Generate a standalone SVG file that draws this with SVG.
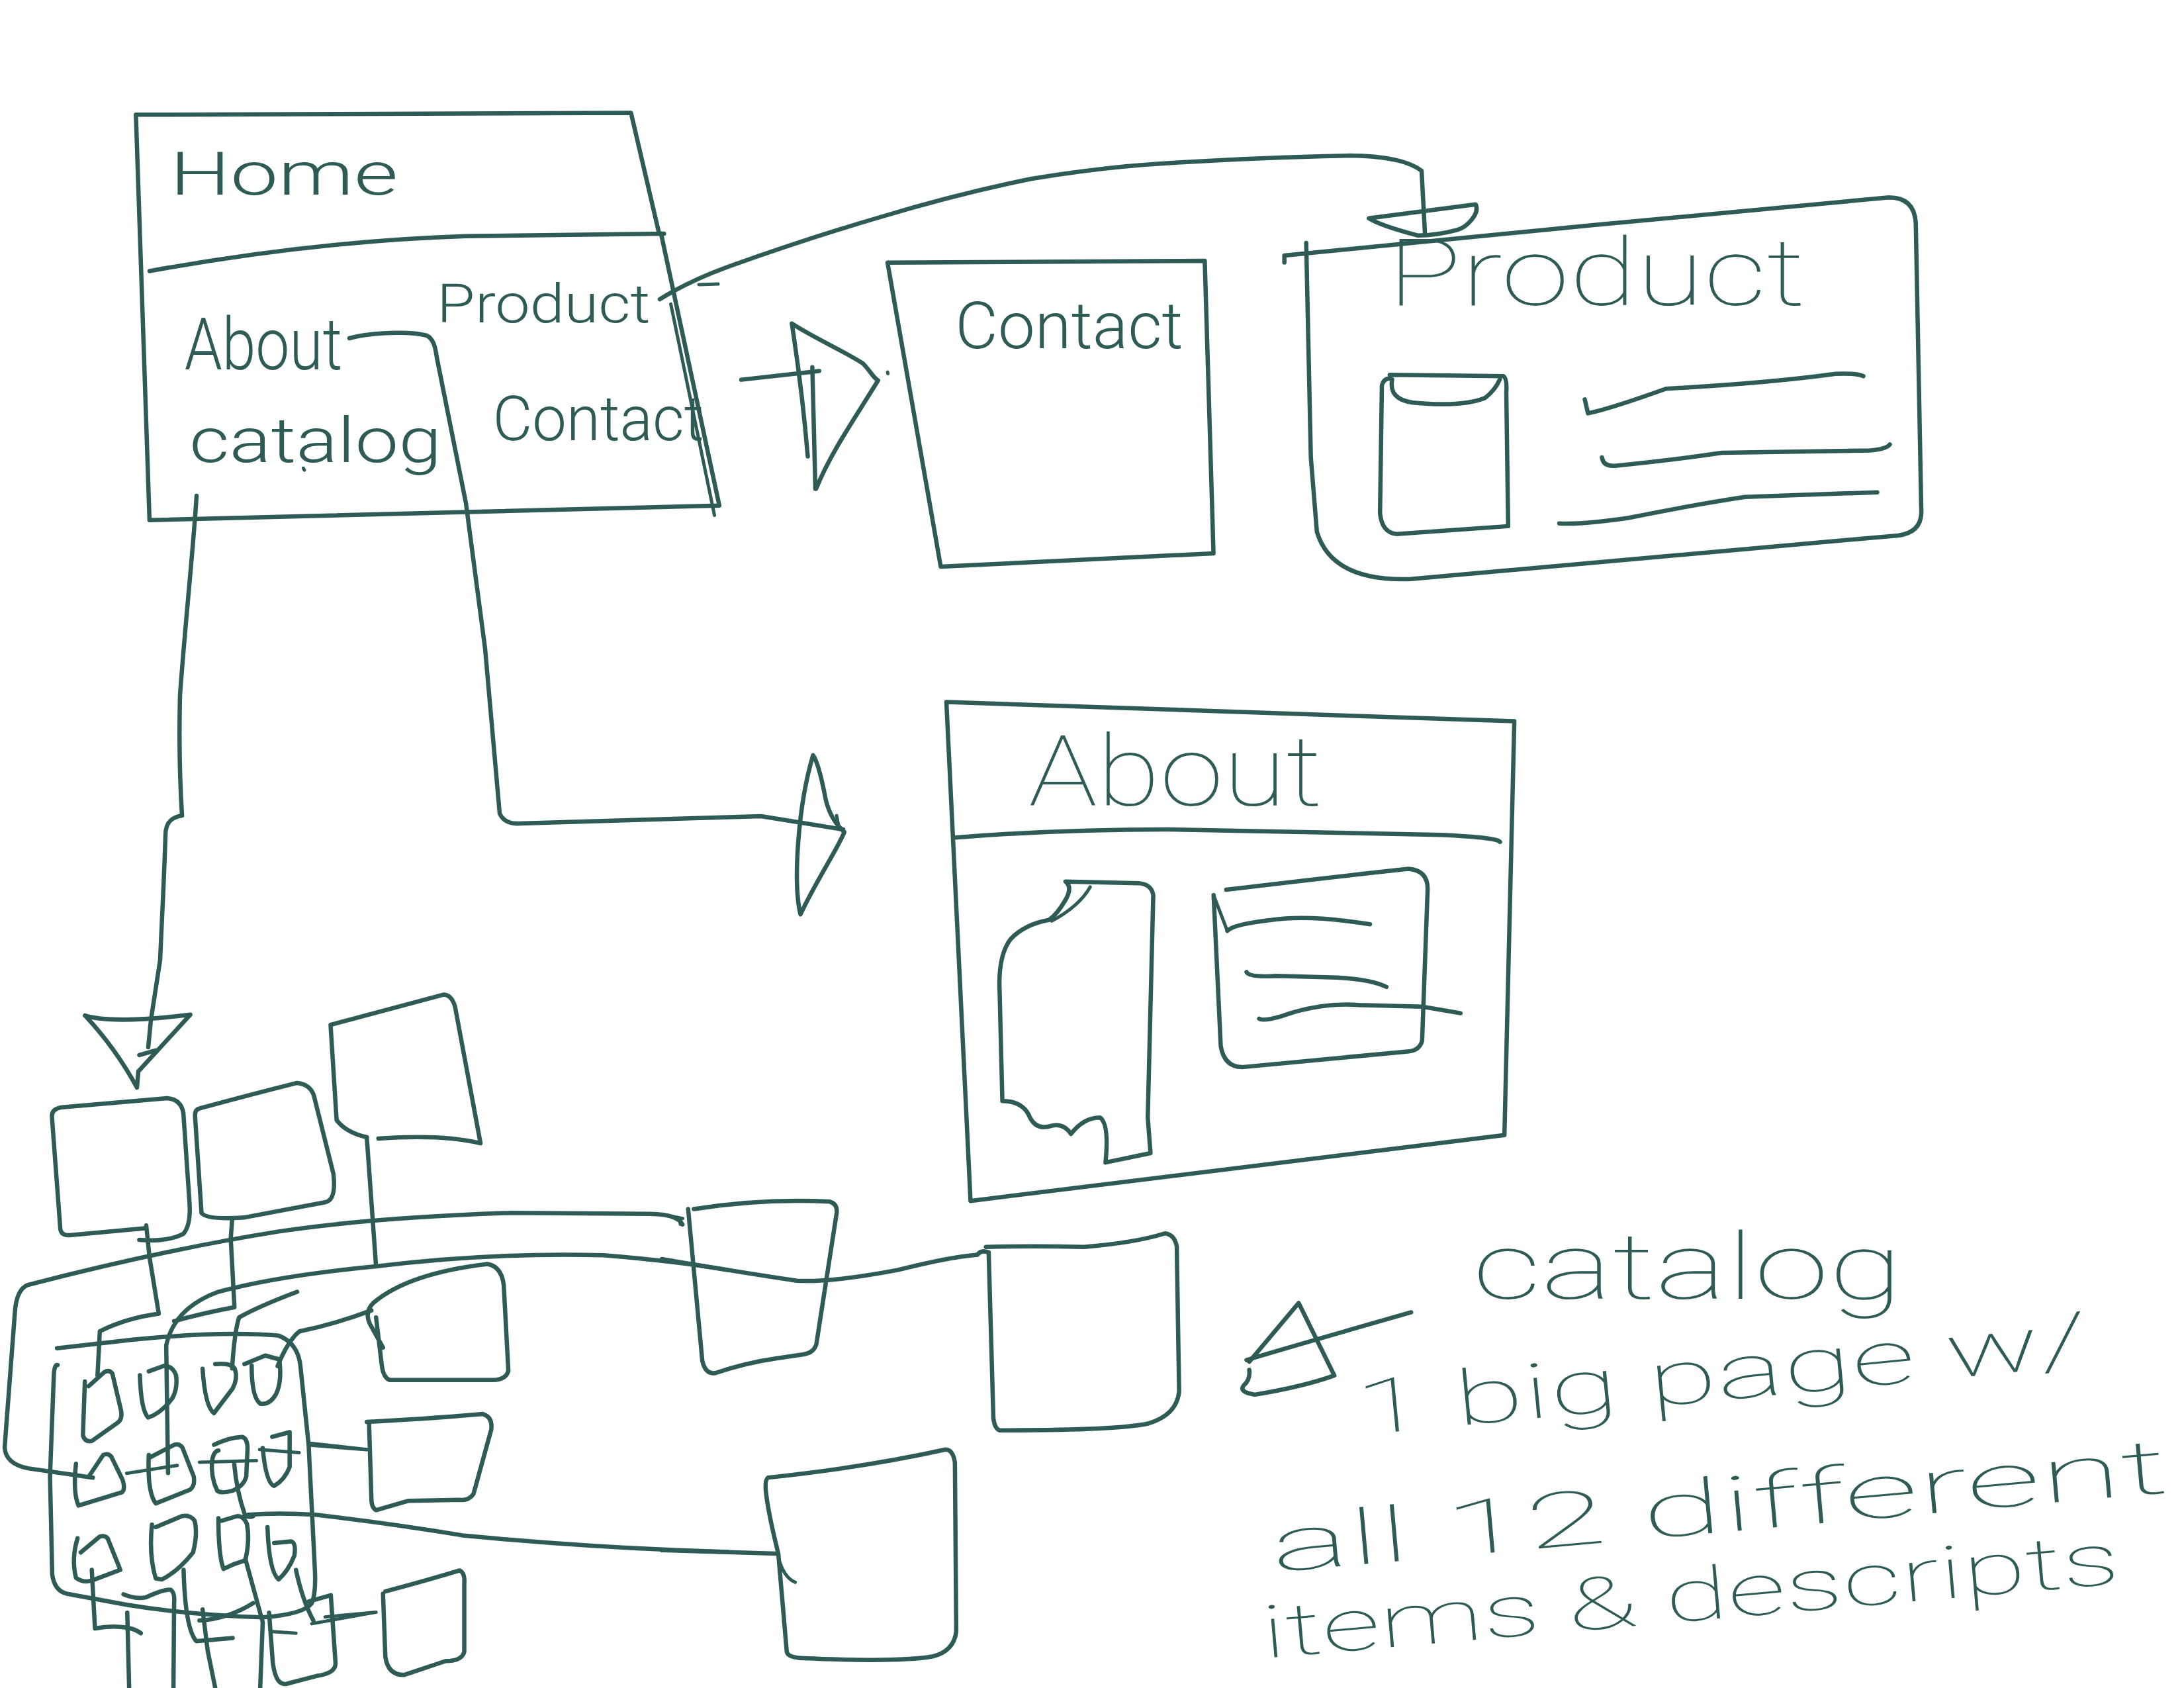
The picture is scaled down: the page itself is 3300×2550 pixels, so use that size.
<svg xmlns="http://www.w3.org/2000/svg" width="3300" height="2550" viewBox="0 0 3300 2550">
<style>
.s{fill:none;stroke:#2e5b55;stroke-width:6.5;stroke-linecap:round;stroke-linejoin:round;vector-effect:non-scaling-stroke}
.n{stroke-width:5}
.t{fill:#2e5b55;font-family:Roboto,"Liberation Sans",Arial,sans-serif;font-weight:300}
.h{font-weight:100}
</style>
<rect width="3300" height="2550" fill="#ffffff"/>

<g id="home" transform="translate(0,100) scale(0.7334)">
<path class="s" d="M1358,345 L1300,96 L280,100 L308,935 L1482,905 L1362,345"/>
<path class="s" d="M308,422 Q650,360 960,350 L1368,345"/>
<path class="s n" d="M1382,490 L1472,925"/>
<path class="s n" d="M625,828 L627,832"/>
<text class="t" x="350" y="265" font-size="125" textLength="470" lengthAdjust="spacingAndGlyphs">Home</text>
<text class="t" x="380" y="625" font-size="150" textLength="325" lengthAdjust="spacingAndGlyphs">About</text>
<text class="t" x="900" y="528" font-size="110" textLength="440" lengthAdjust="spacingAndGlyphs">Product</text>
<text class="t" x="390" y="815" font-size="130" textLength="520" lengthAdjust="spacingAndGlyphs">catalog</text>
<text class="t" x="1015" y="770" font-size="130" textLength="435" lengthAdjust="spacingAndGlyphs">Contact</text>
</g>

<g id="contact" transform="translate(1100,150) scale(0.574)">
<path class="s" d="M420,430 L1255,425 L1278,1195 L560,1230 Z"/>
<text class="t" x="598" y="655" font-size="170" textLength="600" lengthAdjust="spacingAndGlyphs">Contact</text>
</g>

<g id="product" transform="translate(1900,200) scale(0.7015)">
<path class="s" d="M58,280 L58,265 L720,200 L1360,140 Q1415,140 1418,195 L1430,820 Q1428,862 1380,868 L330,962 Q160,968 128,860 L115,700 L105,238"/>
<path class="s" d="M285,522 L530,525 Q538,530 536,560 L540,848 L300,865 Q268,862 264,820 L268,545 Q272,530 285,530"/>
<path class="s" d="M290,532 Q282,575 335,582 Q440,592 490,572 Q512,555 522,532"/>
<path class="s" d="M705,575 L712,605 Q760,595 880,552 Q1100,540 1245,520 Q1290,518 1305,525"/>
<path class="s" d="M742,700 Q745,720 770,718 Q900,705 1000,690 L1320,685 Q1355,682 1362,672"/>
<path class="s" d="M650,842 Q700,845 800,830 Q950,800 1050,785 L1335,775"/>
<text class="t h" x="280" y="372" font-size="200" textLength="900" lengthAdjust="spacingAndGlyphs">Product</text>
</g>

<g id="about" transform="translate(1100,1000) scale(0.8291)">
<path class="s" d="M398,73 L1433,108 L1415,862 L442,982 Z"/>
<path class="s" d="M415,320 Q600,305 800,305 L1300,315 Q1405,320 1407,328"/>
<path class="s" d="M615,400 Q628,410 616,432 Q600,460 585,470 Q540,478 515,505 Q492,535 495,600 L500,800 Q535,800 548,825 Q560,855 590,845 Q612,840 625,860 Q648,830 678,830 Q695,842 688,912 L770,895 L765,830 L775,425 Q772,405 748,403 Z"/>
<path class="s n" d="M590,472 Q640,445 660,410"/>
<path class="s" d="M908,415 Q1100,392 1240,377 Q1276,380 1275,415 L1265,690 Q1260,710 1235,710 L940,738 Q905,740 898,700 L885,425"/>
<path class="s n" d="M885,425 L910,490"/>
<path class="s" d="M910,490 Q920,478 990,470 Q1060,460 1170,478"/>
<path class="s" d="M945,565 Q950,575 1000,572 L1110,575 Q1170,578 1200,592"/>
<path class="s" d="M968,650 Q975,655 1010,645 Q1080,620 1150,625 L1265,628 L1335,640"/>
<text class="t h" x="548" y="262" font-size="180" textLength="535" lengthAdjust="spacingAndGlyphs">About</text>
</g>

<g id="catalog-boxes" transform="translate(0,1450) scale(0.7015)">
<path class="s" d="M300,603 Q360,608 395,590 Q412,570 408,520 L395,330 Q390,300 360,298 L130,318 Q110,322 112,340 L130,580 Q132,594 150,593 L312,578"/>
<path class="s" d="M430,320 Q540,290 640,265 Q668,268 676,292 L718,460 Q725,518 700,522 L525,555 Q445,560 434,545 L420,335 Q420,322 430,320"/>
<path class="s" d="M815,385 Q950,375 1035,395 L980,100 Q972,75 955,75 L712,140 L725,345 Q745,372 790,382"/>
<path class="s" d="M825,835 L800,790 Q782,760 805,738 Q880,675 1050,655 Q1080,660 1085,700 L1095,885 Q1090,905 1060,905 L840,905 Q825,900 822,870 L810,770"/>
<path class="s" d="M790,995 Q900,990 1040,978 Q1062,985 1058,1012 L1020,1150 Q1010,1165 990,1163 L880,1165 L810,1185 Q800,1180 800,1160 L795,1000"/>
<path class="s" d="M830,1360 Q900,1342 990,1315 Q1002,1320 1000,1345 L1000,1490 Q995,1510 960,1510 L870,1540 Q835,1540 830,1500 L825,1365"/>
</g>

<g id="catalog-big" transform="translate(1000,1750) scale(0.5102)">
<path class="s" d="M95,150 Q300,118 498,128 Q520,135 518,160 L458,548 Q452,575 420,580 L340,592 Q250,605 160,635 Q130,642 120,600 L78,150"/>
<path class="s" d="M960,262 Q1100,258 1250,262 Q1400,250 1490,222 Q1518,225 1525,260 L1532,690 Q1525,760 1440,785 Q1350,805 1000,805 Q986,800 982,770 L968,280"/>
<path class="s" d="M315,945 Q600,915 840,862 Q862,862 868,900 L872,1400 Q865,1460 800,1475 Q700,1492 420,1480 Q372,1478 370,1460 L345,1170 Q315,1050 308,985 Q305,950 315,945"/>
<path class="s n" d="M345,1180 Q360,1240 395,1255"/>
</g>

<g id="catalog-page" transform="translate(0,1800) scale(0.4783)">
<path class="s" d="M182,548 Q172,545 170,580 L158,900 L165,1210 Q172,1260 210,1270 L400,1305 Q600,1338 830,1345 Q960,1335 985,1300 Q998,1270 995,1200 L975,800 L950,560 Q945,480 880,455 Q700,440 420,468 L180,495"/>
<path class="s" d="M268,600 L262,770 Q268,792 290,788 L372,730 Q388,718 382,690 L355,575 Q345,562 330,570 L280,615"/>
<path class="s" d="M442,580 Q445,690 468,714 Q510,700 545,652 Q562,620 556,580 Q546,552 520,550 L470,568"/>
<path class="s" d="M640,560 Q648,680 676,700 L735,622 Q752,590 742,560 Q730,540 680,545"/>
<path class="s" d="M795,550 Q795,650 822,670 Q852,675 872,640 Q892,598 882,530 L838,518 L772,545"/>
<path class="s" d="M240,860 Q230,950 248,992 Q300,976 385,950 Q397,940 387,910 L352,838 Q342,825 326,832 L282,898"/>
<path class="s" d="M470,832 Q465,950 492,985 L600,942 Q617,930 612,900 L576,808 Q566,795 550,800 L470,842"/>
<path class="s" d="M676,800 Q725,776 765,775 Q782,780 782,812 L778,900 Q770,930 735,945 Q700,955 686,945 Q665,900 670,850 Q675,820 690,818"/>
<path class="s" d="M830,810 Q840,920 866,930 Q900,910 915,870 L915,760 L860,775"/>
<path class="s" d="M245,1095 Q225,1160 240,1220 Q268,1240 300,1225 L380,1195 L340,1095 Q330,1085 315,1090 L255,1140"/>
<path class="s" d="M480,1052 Q470,1150 492,1222 L512,1225 Q562,1200 610,1140 Q625,1080 615,1040 Q600,1020 575,1025 L492,1060"/>
<path class="s" d="M690,1032 Q690,1150 706,1192 Q740,1175 775,1165 Q790,1100 780,1050 Q770,1025 750,1025 L700,1040"/>
<path class="s" d="M845,1060 Q850,1200 880,1225 Q910,1200 930,1150 Q936,1110 920,1105 L866,1110"/>
<path class="s" d="M390,1272 Q430,1288 460,1282 Q520,1255 540,1258 Q553,1268 550,1300 L548,1568"/>
<path class="s" d="M402,1330 L408,1568"/>
<path class="s" d="M640,1320 L656,1450 L680,1568"/>
<path class="s" d="M850,1330 L862,1490 Q872,1562 905,1555 L1000,1530 Q1060,1522 1060,1490 L1045,1275 L975,1295"/>
<path class="s n" d="M860,1390 L935,1395"/>
</g>

<g id="connectors">
<path class="s" d="M297,749 C292,830 280,940 272,1050 C270,1130 273,1200 275,1232 C262,1234 250,1240 250,1262 C248,1330 244,1400 242,1450 L228,1541 L224,1582"/>
<path class="s" d="M528,511 C560,502 620,500 645,507 C655,512 658,525 660,540 L704,760 L733,980 L755,1229 C760,1240 770,1245 785,1244 L1150,1233 L1274,1253"/>
<path class="s" d="M997,452 Q1040,425 1100,403 Q1220,360 1330,328 Q1450,292 1559,270 Q1680,250 1789,245 Q1900,238 2040,235 Q2120,236 2148,258 L2153,351"/>
<path class="s n" d="M1056,430 L1085,429"/>
<g transform="translate(0,1450) scale(0.7015)">
<path class="s" d="M183,120 C230,135 330,128 410,118 L300,238 M185,122 C225,165 265,220 295,275 L298,240 M300,205 L335,195"/>
<path class="s" d="M315,572 L322,640 L342,762 Q270,772 215,800 L210,895"/>
<path class="s" d="M500,560 L497,600 L505,748 Q440,760 375,778"/>
<path class="s" d="M790,382 L810,660"/>
<path class="s" d="M1568,668 Q1450,648 1300,636 Q1050,630 810,660 Q600,680 470,715 Q375,750 358,830 L362,1105"/>
<path class="s" d="M1470,570 Q1460,548 1400,547 L1100,545 Q800,555 600,585 Q350,625 60,700 Q35,710 32,760 L10,1050 Q12,1085 60,1095 L200,1115"/>
<path class="s" d="M640,715 Q560,745 515,770 Q505,800 500,880"/>
<path class="s" d="M598,875 Q620,820 645,800 Q720,785 800,755"/>
<path class="s n" d="M665,1045 L790,1055"/>
<path class="s n" d="M700,1415 L810,1405"/>
<path class="s" d="M535,1195 Q600,1190 680,1195 Q850,1215 1000,1240 Q1300,1268 1568,1275"/>
</g>
<g transform="translate(1000,1750) scale(0.5102)">
<path class="s" d="M0,298 Q250,340 400,362 Q500,368 700,330 Q850,292 935,285 Q945,270 968,278"/>
<path class="s n" d="M0,165 L62,178 M52,180 L55,195"/>
<path class="s" d="M0,1160 L340,1170"/>
</g>
<g transform="translate(0,1800) scale(0.4783)">
<path class="s n" d="M400,890 L560,865"/>
<path class="s n" d="M630,855 L810,850"/>
<path class="s n" d="M820,815 L945,825"/>
<path class="s n" d="M980,795 L1160,815"/>
<path class="s" d="M740,862 Q748,950 775,1025 Q790,1030 800,1025"/>
<path class="s" d="M775,1160 Q805,1270 830,1360 L822,1568"/>
<path class="s" d="M935,1195 Q955,1290 990,1355"/>
<path class="s" d="M580,1195 Q585,1380 620,1420 L735,1410"/>
<path class="s" d="M290,1195 L300,1380 Q340,1372 380,1375 Q425,1378 445,1395"/>
<path class="s" d="M630,1355 Q720,1350 800,1300"/>
<path class="s n" d="M985,1365 L1180,1330"/>
</g>
<g transform="translate(1100,1000) scale(0.8291)">
<path class="s" d="M155,170 C128,260 118,400 132,460 C160,400 200,340 212,310 C190,290 180,265 176,240 C170,210 162,180 155,170 Z"/>
<path class="s n" d="M198,280 L203,305"/>
</g>
<g transform="translate(1900,200) scale(0.7015)">
<path class="s" d="M240,185 L470,155 C480,175 450,205 430,210 C400,218 370,222 345,222 C300,210 260,198 240,185 Z"/>
</g>
<g transform="translate(1100,150) scale(0.574)">
<path class="s" d="M35,738 L240,715 M222,705 L230,1025"/>
<path class="s" d="M210,940 C200,820 185,700 168,590 C230,630 300,660 355,695 C375,715 380,730 395,740 C340,830 270,930 232,1025"/>
<path class="s n" d="M420,718 L421,722"/>
</g>
</g>

<g id="note">
<g transform="translate(1100,1000) scale(0.8291)">
<path class="s" d="M950,1275 L1040,1168 L1105,1300 Q1050,1320 960,1335 Q930,1330 940,1318 Q952,1308 950,1290"/>
<path class="s" d="M945,1272 Q1000,1255 1245,1185"/>
</g>
<text class="t h" x="2225" y="1962" font-size="140" textLength="650" lengthAdjust="spacingAndGlyphs">catalog</text>
<text class="t h" x="2053" y="2168" font-size="115" textLength="1110" lengthAdjust="spacingAndGlyphs" transform="rotate(-5.5 2053 2168)">1 big page w/</text>
<text class="t h" x="1924" y="2375" font-size="115" textLength="1360" lengthAdjust="spacingAndGlyphs" transform="rotate(-5.1 1924 2375)">all 12 different</text>
<text class="t h" x="1910" y="2505" font-size="110" textLength="1300" lengthAdjust="spacingAndGlyphs" transform="rotate(-5 1910 2505)">items &amp; descripts</text>
</g>
</svg>
